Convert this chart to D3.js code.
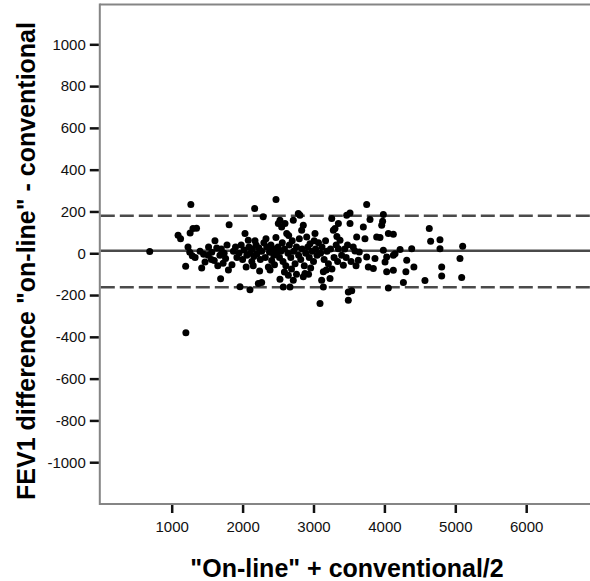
<!DOCTYPE html>
<html>
<head>
<meta charset="utf-8">
<script src="https://cdn.jsdelivr.net/npm/d3@7"></script>
<style>
	body { margin: 0; background: #fff; }
	svg { display: block; }
	text { font-family: "Liberation Sans", Arial, sans-serif; }
</style>
</head>
<body>
<svg id="chart" width="590" height="581"></svg>
<script>
// tick values
const xTicks = [1000, 2000, 3000, 4000, 5000, 6000];
const yTicks = [1000, 800, 600, 400, 200, 0, -200, -400, -600, -800, -1000];

// mean difference and limits of agreement
const meanDiff = 12;
const upperLimit = 180;
const lowerLimit = -163;

// [mean of the two, difference]
const points = [
	[690, 8], [1090, 86], [1125, 70], [1270, 233], [1260, 97], [1300, 119], [1350, 120],
	[1230, 30], [1255, 5], [1290, -12], [1197, -62], [1423, -70], [1470, -42], [1515, -10],
	[1565, 5], [1610, 60], [1635, 25], [1680, -10], [1600, -35], [1690, -122], [1725, -48],
	[1810, 136], [1200, -381], [1330, -20], [1400, 10], [1450, -5], [1520, 30], [1560, -30],
	[1650, -60], [1700, 20], [1740, 0], [1760, -25], [1780, 40], [1800, -80],
	[1850, -55], [1870, 10], [1900, 30], [1920, -20], [1950, 0], [1963, -160], [1980, 40],
	[2000, -30], [2020, 15], [2034, 94], [2050, -66], [2060, -10], [2080, 62], [2090, 30],
	[2104, -175], [2110, 0], [2130, -40], [2140, 20], [2160, -15], [2170, 214], [2175, 60],
	[2190, 40], [2200, -5], [2222, -145], [2230, 25], [2250, -30], [2270, 10], [2269, -140],
	[2290, 175], [2300, 50], [2320, -20], [2340, 30], [2363, -66], [2380, 5], [2387, -80],
	[2400, 40], [2410, -35], [2420, 15], [2440, -10], [2460, 20], [2471, 257], [2480, 0],
	[2500, 30], [2504, 142], [2520, -20], [2527, 158], [2527, -125], [2540, 10], [2551, 126],
	[2560, 50], [2570, -40], [2574, -161], [2590, 20], [2598, 142], [2610, -60], [2622, 94],
	[2640, 0], [2645, -105], [2660, 40], [2668, -161], [2680, -20], [2700, 60], [2715, 158],
	[2715, -129], [2720, 10], [2740, -50], [2760, 30], [2786, 190], [2790, -10], [2800, 70],
	[2809, 182], [2820, -30], [2833, 110], [2840, 20], [2856, 134], [2856, -113], [2870, -60],
	[2880, -97], [2890, 0], [2904, 78], [2920, 30], [2940, -20], [2951, 46], [2960, -70],
	[2980, 10], [3000, -40], [3021, 94], [3030, 20], [3050, -10], [3070, 50], [3092, -241],
	[3100, 0], [3115, -129], [3120, 30], [3139, -89], [3139, -161], [3150, -30], [3170, 60],
	[3190, 10], [3210, -50], [3233, -121], [3240, 20], [3257, 166], [3280, 110], [3290, -20],
	[3303, 118], [3320, 40], [3340, -40], [3351, 142], [3351, 22], [3374, 62], [3397, -10],
	[3421, -57], [3440, 20], [3460, -20], [3480, 40], [3530, -40], [3560, 30], [3600, -60],
	[3468, 182], [3491, -185], [3491, -225], [3515, 193], [3515, 142], [3539, -180], [3585, 11],
	[3609, 78], [3632, -33], [3646, 6], [3703, 126], [3726, 70], [3750, 233], [3750, -18],
	[3773, -66], [3797, 161], [3844, -73], [3867, -25], [3891, 78], [3938, 75], [3962, 134],
	[3985, 185], [3975, 153], [3985, 14], [4009, -42], [4032, -18], [4032, -89], [4056, -166],
	[4056, 94], [4126, 91], [4126, -10], [4126, -81], [4150, -2], [4221, 18], [4268, -140],
	[4315, -33], [4303, -89], [4385, 22], [4416, -66], [4572, -130], [4633, 118], [4652, 57],
	[4784, 65], [4784, 22], [4808, -66], [4808, -109], [5104, 33], [5066, -25], [5090, -116],
	[2150, -60], [2240, -85], [2330, 70], [2450, -55], [2590, -90], [2690, -75], [2760, -100],
	[2930, -100], [3010, 60], [3180, -80], [3260, -75], [3330, 80], [2650, 85], [2470, 75]
];

const svg = d3.select("#chart");
const plotLeft = 100.8, plotTop = 4.6, plotBottom = 504;

const x = d3.scaleLinear().domain([0, 7000]).range([plotLeft, plotLeft + 7000 * 0.0709]);
const y = d3.scaleLinear().domain([-1200, 1190]).range([plotBottom, plotTop]);

// frame (no right edge inside the picture)
const frameColor = "#858585";
svg.append("line").attr("x1", plotLeft - 1).attr("x2", 600).attr("y1", plotTop).attr("y2", plotTop)
	.attr("stroke", frameColor).attr("stroke-width", 2);
svg.append("line").attr("x1", plotLeft - 1).attr("x2", 600).attr("y1", plotBottom).attr("y2", plotBottom)
	.attr("stroke", frameColor).attr("stroke-width", 2);
svg.append("line").attr("x1", plotLeft - 1).attr("x2", plotLeft - 1).attr("y1", plotTop - 1).attr("y2", plotBottom + 1)
	.attr("stroke", frameColor).attr("stroke-width", 2);

// axes
const yAxis = d3.axisLeft(y).tickValues(yTicks).tickSize(9).tickPadding(4).tickFormat(d3.format("d"));
const gy = svg.append("g").attr("transform", "translate(" + (plotLeft - 2) + ",0)").call(yAxis);
const xAxis = d3.axisBottom(x).tickValues(xTicks).tickSize(8).tickPadding(8).tickFormat(d3.format("d"));
const gx = svg.append("g").attr("transform", "translate(0," + (plotBottom + 1) + ")").call(xAxis);

[gx, gy].forEach(function(g) {
	g.select(".domain").remove();
	g.selectAll(".tick line").attr("stroke", "#111").attr("stroke-width", 2.5);
	g.selectAll(".tick text")
		.attr("fill", "#111")
		.style("font-size", "15px")
		.text(function(d) { return String(d); });
});

// reference lines
const lineColor = "#4a4a4a";
svg.append("line")
	.attr("x1", plotLeft).attr("x2", 600)
	.attr("y1", y(meanDiff)).attr("y2", y(meanDiff))
	.attr("stroke", lineColor).attr("stroke-width", 2.5);
[upperLimit, lowerLimit].forEach(function(v) {
	svg.append("line")
		.attr("x1", plotLeft).attr("x2", 600)
		.attr("y1", y(v)).attr("y2", y(v))
		.attr("stroke", lineColor).attr("stroke-width", 2.5)
		.attr("stroke-dasharray", "14,5");
});

// points
svg.append("g")
	.selectAll("circle")
	.data(points)
	.enter()
	.append("circle")
	.attr("cx", function(d) { return x(d[0]); })
	.attr("cy", function(d) { return y(d[1]); })
	.attr("r", 3.5)
	.attr("fill", "#000");

// axis titles
svg.append("text")
	.attr("x", 347).attr("y", 577)
	.attr("text-anchor", "middle")
	.style("font-size", "25px").style("font-weight", "bold")
	.attr("fill", "#000")
	.text("\"On-line\" + conventional/2");

svg.append("text")
	.attr("transform", "translate(35,261) rotate(-90)")
	.attr("text-anchor", "middle")
	.style("font-size", "25px").style("font-weight", "bold")
	.attr("fill", "#000")
	.text("FEV1 difference \"on-line\" - conventional");
</script>
</body>
</html>
